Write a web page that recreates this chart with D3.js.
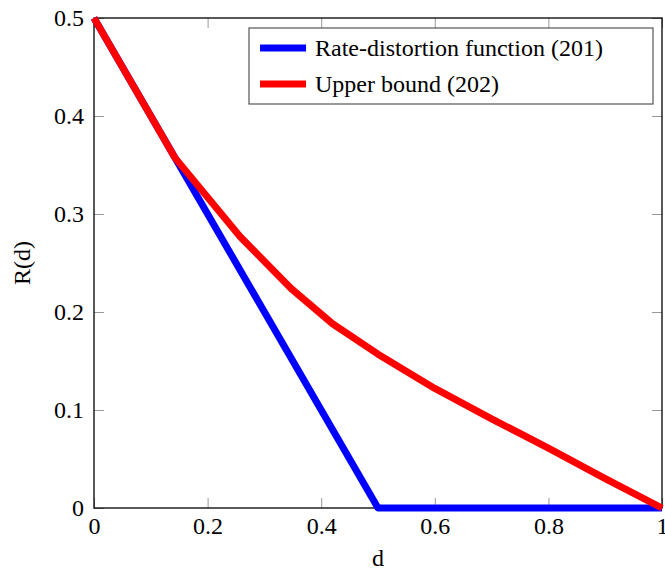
<!DOCTYPE html>
<html>
<head>
<meta charset="utf-8">
<script src="https://cdn.jsdelivr.net/npm/d3@7"></script>
<style>
  body { margin: 0; background: #fff; }
  svg text { font-family: "Liberation Serif", "DejaVu Serif", "Times New Roman", Times, serif !important; }
</style>
</head>
<body>
<script>
margin = ({top: 18, right: 2, bottom: 64, left: 94})
width = 665
height = 572

// data
var rdD = [0, 0.5, 1];
var rdR = [0.5, 0, 0];
var ubD = [0, 0.143, 0.257, 0.347, 0.42, 0.5, 0.6, 0.7, 0.8, 0.9, 1.0];
var ubR = [0.5, 0.357, 0.277, 0.224, 0.188, 0.157, 0.122, 0.091, 0.061, 0.030, 0];
var xTicks = [0, 0.2, 0.4, 0.6, 0.8, 1];
var yTicks = [0, 0.1, 0.2, 0.3, 0.4, 0.5];
var seriesNames = ["Rate-distortion function (201)", "Upper bound (202)"];
var seriesColors = ["#0000ff", "#ff0000"];

x = d3.scaleLinear()
.domain([0, 1])
.range([margin.left, width - margin.right - 1])

y = d3.scaleLinear()
.domain([0, 0.5])
.range([height - margin.bottom, margin.top])

const svg = d3.select("body").append("svg")
    .attr("width", width)
    .attr("height", height);

// ticks on all four sides, pointing inward
const tickLen = 10;
const fmt = d => d === 0 ? "0" : d === 1 ? "1" : d3.format(".1f")(d);

svg.append("g")
    .attr("transform", `translate(0,${y(0)})`)
    .call(d3.axisBottom(x).tickValues(xTicks).tickSize(-tickLen).tickFormat(fmt))
    .call(g => g.select(".domain").remove())
    .call(g => g.selectAll("line").attr("stroke", "#999"))
    .call(g => g.selectAll("text").attr("font-size", 24).attr("dy", "0.71em")
      .attr("y", 9));

svg.append("g")
    .attr("transform", `translate(0,${y(0.5)})`)
    .call(d3.axisTop(x).tickValues(xTicks).tickSize(-tickLen).tickFormat(""))
    .call(g => g.select(".domain").remove())
    .call(g => g.selectAll("line").attr("stroke", "#999"));

svg.append("g")
    .attr("transform", `translate(${x(0)},0)`)
    .call(d3.axisLeft(y).tickValues(yTicks).tickSize(-tickLen).tickFormat(fmt))
    .call(g => g.select(".domain").remove())
    .call(g => g.selectAll("line").attr("stroke", "#999"))
    .call(g => g.selectAll("text").attr("font-size", 24).attr("x", -10));

svg.append("g")
    .attr("transform", `translate(${x(1)},0)`)
    .call(d3.axisRight(y).tickValues(yTicks).tickSize(-tickLen).tickFormat(""))
    .call(g => g.select(".domain").remove())
    .call(g => g.selectAll("line").attr("stroke", "#999"));

// frame
svg.append("rect")
    .attr("x", x(0))
    .attr("y", y(0.5))
    .attr("width", x(1) - x(0))
    .attr("height", y(0) - y(0.5))
    .attr("fill", "none")
    .attr("stroke", "#000")
    .attr("stroke-width", 1.3);

// lines
const line = d3.line().x(d => x(d[0])).y(d => y(d[1]));
const series = [d3.zip(rdD, rdR), d3.zip(ubD, ubR)];

svg.append("g")
  .selectAll("path")
  .data(series).enter()
  .append("path")
    .attr("d", line)
    .attr("fill", "none")
    .attr("stroke", (d, i) => seriesColors[i])
    .attr("stroke-width", 7)
    .attr("stroke-linejoin", "round");

// axis labels
svg.append("text")
    .attr("x", (x(0) + x(1)) / 2)
    .attr("y", 566)
    .attr("text-anchor", "middle")
    .attr("font-size", 24)
    .text("d");

svg.append("text")
    .attr("transform", `translate(30,${(y(0) + y(0.5)) / 2}) rotate(-90)`)
    .attr("text-anchor", "middle")
    .attr("font-size", 24)
    .text("R(d)");

// legend
const lg = svg.append("g");
lg.append("rect")
    .attr("x", 249).attr("y", 28)
    .attr("width", 404).attr("height", 76)
    .attr("fill", "#fff")
    .attr("stroke", "#555")
    .attr("stroke-width", 1.2);

const item = lg.selectAll("g.item")
  .data(seriesNames).enter()
  .append("g")
    .attr("transform", (d, i) => `translate(260,${48 + i * 36})`);

item.append("line")
    .attr("x1", 0).attr("x2", 46)
    .attr("stroke", (d, i) => seriesColors[i])
    .attr("stroke-width", 7);

item.append("text")
    .attr("x", 55)
    .attr("dy", "0.35em")
    .attr("font-size", 24)
    .text(d => d);
</script>
</body>
</html>
